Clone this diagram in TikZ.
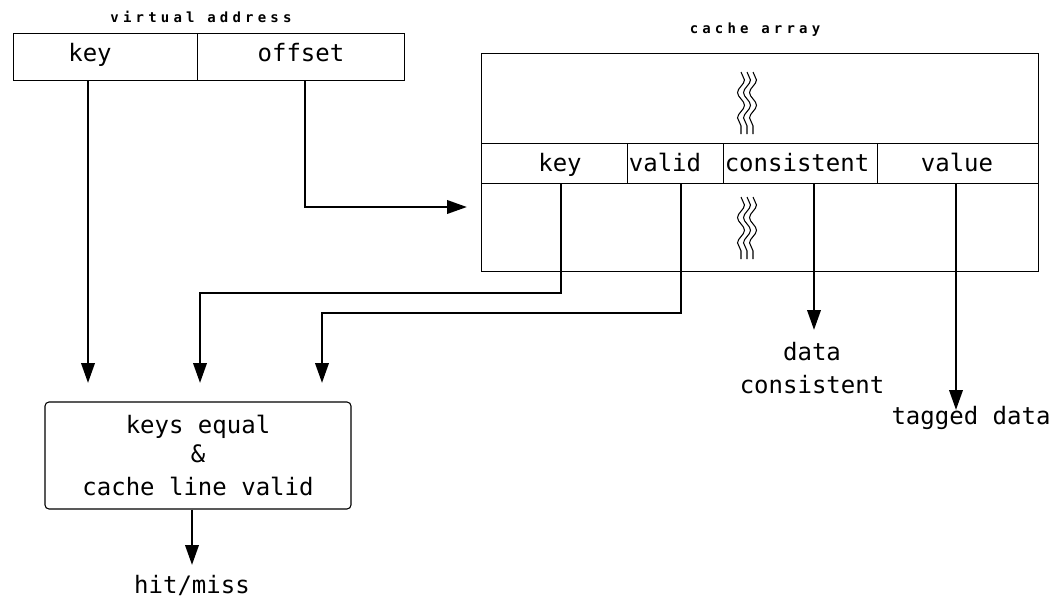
\documentclass[tikz,border=0pt]{standalone}
\usepackage{fontspec}
\setmonofont{DejaVu Sans Mono}
\usetikzlibrary{arrows.meta,decorations.pathmorphing}
\begin{document}
\begin{tikzpicture}[x=0.75pt,y=-0.75pt,
  font=\ttfamily\fontsize{18}{22.5}\selectfont,
  box/.style={line width=0.5pt},
  flow/.style={line width=2pt, -{Triangle[length=15pt,width=10pt]}},
  small/.style={font=\ttfamily\bfseries\fontsize{10.5}{13}\selectfont\addfontfeature{LetterSpace=30}, anchor=base, inner sep=0pt},
  lbl/.style={anchor=base, inner sep=0pt},
  squig/.style={line width=0.8pt, decorate, decoration={snake, amplitude=2.6pt, segment length=19pt}}]
\useasboundingbox (0,0) rectangle (1064,600);

% virtual address
\node[small] (vatitle) at (201,22) {virtual address};
\draw[box] (13,33) rectangle (404,80);
\draw[box] (197,33) -- (197,80);
\node[lbl] (vakey) at (90,61) {key};
\node[lbl] (vaoff) at (301,61) {offset};

% cache array
\node[small] (catitle) at (755,33) {cache array};
\draw[box] (481,53) rectangle (1038,271);
\draw[box] (481,143) -- (1038,143);
\draw[box] (481,183) -- (1038,183);
\draw[box] (627,143) -- (627,183);
\draw[box] (723,143) -- (723,183);
\draw[box] (877,143) -- (877,183);
\node[lbl] (ckey) at (560,171) {key};
\node[lbl] (cvalid) at (665,171) {valid};
\node[lbl] (ccons) at (797,171) {consistent};
\node[lbl] (cvalue) at (957,171) {value};
\foreach \dx in {-6,0,6} {
  \draw[squig] (747+\dx,72) -- (747+\dx,134);
  \draw[squig] (747+\dx,197) -- (747+\dx,259);
}

% logic box
\node[draw, line width=0.8pt, rounded corners=3pt, align=center,
      minimum width=229.5pt, minimum height=80.25pt, inner sep=0pt]
      (logic) at (198,455.5) {keys equal\\[-1pt]\&\\[2pt]cache line valid};

% output labels
\node[lbl] (dc1) at (812,360) {data};
\node[lbl] (dc2) at (812,393) {consistent};
\node[lbl] (td) at (971,424) {tagged data};
\node[lbl] (hm) at (192,593) {hit/miss};

% connector points
\coordinate (pKey) at (88,80);
\coordinate (pOff) at (305,80);
\coordinate (caIn) at (467,207);
\coordinate (cK) at (561,183);
\coordinate (cV) at (681,183);
\coordinate (cC) at (814,183);
\coordinate (cVal) at (956,183);
\coordinate (in1) at (88,383);
\coordinate (in2) at (200,383);
\coordinate (in3) at (322,383);
\coordinate (dcIn) at (814,330);
\coordinate (tdIn) at (956,410);
\coordinate (hmIn) at (192,565);

\draw[flow] (pKey) -- (in1);
\draw[flow] (pOff) |- (caIn);
\draw[flow] (cK) -- (561,293) -| (in2);
\draw[flow] (cV) -- (681,313) -| (in3);
\draw[flow] (cC) -- (dcIn);
\draw[flow] (cVal) -- (tdIn);
\draw[flow] (logic.south -| hmIn) -- (hmIn);
\end{tikzpicture}
\end{document}
